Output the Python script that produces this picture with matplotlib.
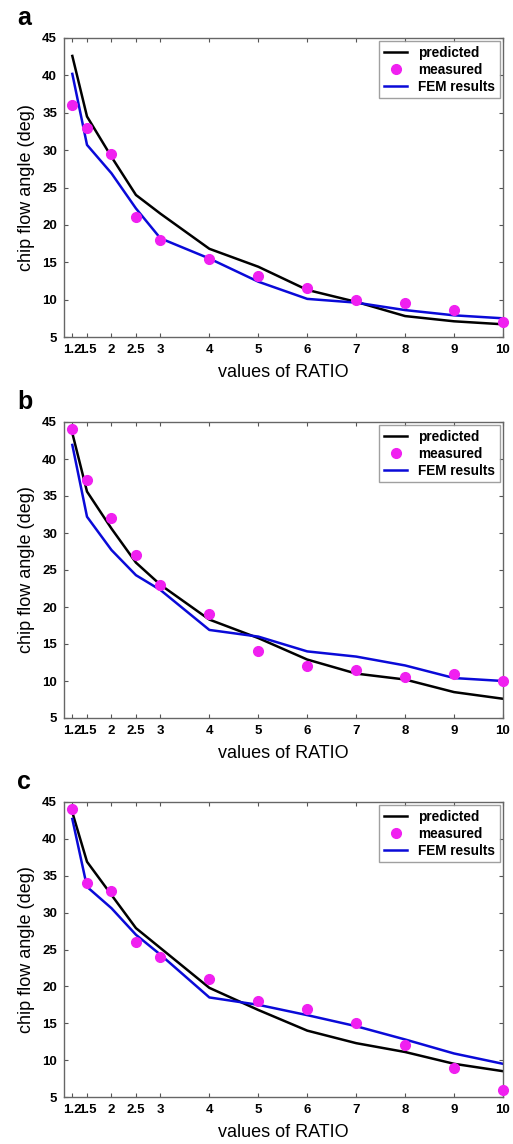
import matplotlib
matplotlib.use('Agg')
import matplotlib.pyplot as plt

# x positions (values of RATIO)
ratio = [1.2, 1.5, 2, 2.5, 3, 4, 5, 6, 7, 8, 9, 10]
tick_labels = ['1.2', '1.5', '2', '2.5', '3', '4', '5', '6', '7', '8', '9', '10']

# panel a
pred_a = [42.6, 34.5, 29.1, 24.0, 21.5, 16.8, 14.4, 11.3, 9.7, 7.8, 7.1, 6.7]
meas_a = [36, 33, 29.5, 21, 18, 15.5, 13.2, 11.5, 10, 9.5, 8.6, 7]
fem_a = [40.2, 30.7, 26.9, 22.2, 18.2, 15.5, 12.4, 10.1, 9.6, 8.6, 7.9, 7.5]

# panel b
pred_b = [43.5, 35.6, 30.6, 26.0, 23.0, 18.3, 15.8, 12.9, 11.0, 10.2, 8.5, 7.6]
meas_b = [44, 37.2, 32, 27, 23, 19, 14, 12, 11.5, 10.5, 11, 10]
fem_b = [41.9, 32.2, 27.7, 24.3, 22.3, 16.9, 16.0, 14.0, 13.3, 12.1, 10.4, 10.0]

# panel c
pred_c = [43.6, 36.9, 32.4, 27.9, 25.2, 19.8, 16.8, 14.0, 12.3, 11.1, 9.5, 8.5]
meas_c = [44, 34, 33, 26, 24, 21, 18, 17, 15, 12, 9, 6]
fem_c = [42.7, 33.5, 30.6, 27.0, 24.3, 18.5, 17.5, 16.1, 14.6, 12.8, 10.9, 9.5]

plt.rcParams['font.family'] = ['Liberation Sans', 'DejaVu Sans']

W, H = 513, 1144
fig = plt.figure(figsize=(W / 100, H / 100), dpi=100)

# (top, bottom) of each axes box in pixels
boxes = [(38, 337), (422, 718), (802, 1097)]
left_px, right_px = 64, 503
panels = [('a', pred_a, meas_a, fem_a),
          ('b', pred_b, meas_b, fem_b),
          ('c', pred_c, meas_c, fem_c)]

for (top, bot), (letter, pred, meas, fem) in zip(boxes, panels):
    ax = fig.add_axes([left_px / W, (H - bot) / H,
                       (right_px - left_px) / W, (bot - top) / H])
    ax.plot(ratio, pred, color='black', lw=1.8, label='predicted')
    ax.plot(ratio, meas, 'o', color='#f020f0', ms=7, mec='#f020f0',
            label='measured', clip_on=False, zorder=5)
    ax.plot(ratio, fem, color='#0a0ad8', lw=1.8, label='FEM results')

    ax.set_xlim(1.03, 10)
    ax.set_ylim(5, 45)
    ax.set_xticks(ratio)
    ax.set_xticklabels(tick_labels)
    ax.set_yticks(range(5, 50, 5))
    ax.tick_params(direction='in', top=True, right=True, length=3,
                   width=0.8, color='#555555', labelsize=9.5, pad=5)
    for lab in ax.get_xticklabels() + ax.get_yticklabels():
        lab.set_fontweight('bold')
    for sp in ax.spines.values():
        sp.set_color('#666666')
        sp.set_linewidth(1.0)

    ax.set_xlabel('values of RATIO', fontsize=13, labelpad=6)
    ax.set_ylabel('chip flow angle (deg)', fontsize=13, labelpad=5)

    leg = ax.legend(loc='upper right', frameon=True, fancybox=False,
                    borderaxespad=0.25, handlelength=1.7, handletextpad=0.8,
                    prop={'weight': 'bold', 'size': 9.8}, labelspacing=0.2,
                    borderpad=0.35)
    leg.get_frame().set_edgecolor('#888888')
    leg.get_frame().set_linewidth(1.0)

    fig.text(17 / W, 1 - (top - 20) / H, letter, fontsize=18,
             fontweight='bold', va='center', ha='left')

fig.savefig('out.png', dpi=100)
